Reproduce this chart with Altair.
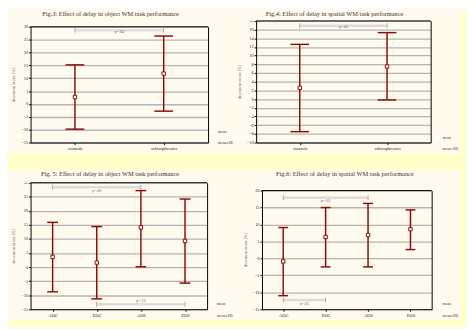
import altair as alt
import pandas as pd

# ---------------- data ----------------
YTITLE = "decrement in rate [%]"

P1_TITLE = "Fig.3: Effect of delay in object WM task performance"
P1_CATS = ["controls", "schizophrenics"]
P1_MEAN = [2.7, 11.8]
P1_LOW = [-9.8, -2.8]
P1_HIGH = [15.2, 26.4]
P1_YTICKS = [-15, -10, -5, 0, 5, 10, 15, 20, 25, 30]
P1_BR_FROM = ["controls"]
P1_BR_TO = ["schizophrenics"]
P1_BR_AT = [28.6]
P1_BR_TEXT = ["p=.04"]
P1_LEGEND = ["mean", "mean±SE"]

P2_TITLE = "Fig.4: Effect of delay in spatial WM task performance"
P2_CATS = ["controls", "schizophrenics"]
P2_MEAN = [2.6, 7.5]
P2_LOW = [-7.5, -0.2]
P2_HIGH = [12.6, 15.3]
P2_YTICKS = [-10, -8, -6, -4, -2, 0, 2, 4, 6, 8, 10, 12, 14, 16, 18]
P2_BR_FROM = ["controls"]
P2_BR_TO = ["schizophrenics"]
P2_BR_AT = [16.9]
P2_BR_TEXT = ["p=.45"]
P2_LEGEND = ["mean", "mean±SD"]

P3_TITLE = "Fig. 5: Effect of delay in object WM task performance"
P3_CATS = ["AOC", "EOC", "AOS", "EOS"]
P3_MEAN = [3.6, 1.6, 14.1, 9.3]
P3_LOW = [-8.8, -11.3, 0.1, -5.7]
P3_HIGH = [15.9, 14.4, 27.2, 24.2]
P3_YTICKS = [-15, -10, -5, 0, 5, 10, 15, 20, 25, 30]
P3_BR_FROM = ["AOC", "EOC"]
P3_BR_TO = ["AOS", "EOS"]
P3_BR_AT = [28.4, -13.2]
P3_BR_TEXT = ["p=.08", "p=.13"]
P3_LEGEND = ["mean", "mean±SD"]

P4_TITLE = "Fig.6: Effect of delay in spatial WM task performance"
P4_CATS = ["AOC", "EOC", "AOS", "EOS"]
P4_MEAN = [-0.9, 6.3, 6.9, 8.6]
P4_LOW = [-11.0, -2.5, -2.5, 2.6]
P4_HIGH = [9.1, 15.0, 16.2, 14.3]
P4_YTICKS = [-15, -10, -5, 0, 5, 10, 15, 20]
P4_BR_FROM = ["AOC", "AOC"]
P4_BR_TO = ["AOS", "EOC"]
P4_BR_AT = [17.9, -12.3]
P4_BR_TEXT = ["p=.03", "p=.05"]
P4_LEGEND = ["mean", "mean±SD"]

# ---------------- styling / layout ----------------
BG = "#ffffc8"
CREAM = "#fffaee"
RED = "#8b0c0c"
GRID = "#b4b4b4"
FONT = "Liberation Serif"
IBEAM = "M-1.3,-1.7L1.3,-1.7M0,-1.7L0,1.7M-1.3,1.7L1.3,1.7"

# w/h: view size; top: where the y range starts inside the view
# cl/cr/ct/cb: the cream panel around the view; gap: yellow strip below; rgap: strip right
L1 = dict(w=181, h=124, top=6, cl=-23, cr=208, ct=-9, cb=135, gap=17, rgap=0,
          toff=-6, tdx=-9, cap=19, lx=183, ly=110, dy=[2])
L2 = dict(w=178, h=124, top=0, cl=-22, cr=208, ct=-9, cb=135, gap=17, rgap=6,
          toff=-6, tdx=-9, cap=19, lx=182, ly=116, dy=[1])
L3 = dict(w=180, h=129, top=0, cl=-23, cr=208, ct=-13, cb=140, gap=7, rgap=0,
          toff=-8, tdx=-9, cap=11, lx=182, ly=121, dy=[4, -3])
L4 = dict(w=173, h=129, top=8, cl=-28, cr=202, ct=-13, cb=140, gap=7, rgap=6,
          toff=-8, tdx=-2, cap=10, lx=176, ly=121, dy=[3, 4])


def axis(**kw):
    base = dict(domainColor="black", domainWidth=1, tickColor="black",
                tickSize=2, grid=False, labelFont=FONT, labelFontSize=4.5,
                labelColor="#222", title=None)
    base.update(kw)
    return alt.Axis(**base)


def box(color, x1, x2, y1, y2):
    return alt.Chart(pd.DataFrame({"k": [0]})).mark_rect(fill=color, opacity=1).encode(
        x=alt.value(x1), x2=alt.value(x2), y=alt.value(y1), y2=alt.value(y2))


def panel(title, cats, mean, low, high, yticks, br_from, br_to, br_at, br_text, legend, L):
    n = len(cats)
    idx = list(range(n))
    bars = pd.DataFrame({"cat": cats, "i": idx, "mean": mean, "low": low,
                         "high": high, "stat": legend[0]})
    caps = pd.concat([pd.DataFrame({"i": idx, "v": low}),
                      pd.DataFrame({"i": idx, "v": high})])
    top = pd.DataFrame({"v": [yticks[-1]]})
    br = pd.DataFrame({"a": [cats.index(c) for c in br_from],
                       "b": [cats.index(c) for c in br_to],
                       "at": br_at, "text": br_text})
    br["mid"] = (br["a"] + br["b"]) / 2
    ends = pd.concat([pd.DataFrame({"i": br["a"], "at": br["at"]}),
                      pd.DataFrame({"i": br["b"], "at": br["at"]})])

    xs = alt.Scale(domain=[-0.5, n - 0.5], nice=False, zero=False)
    ys = alt.Scale(domain=[yticks[0], yticks[-1]], range=[L["h"], L["top"]],
                   nice=False, zero=False)
    labexpr = "[" + ",".join("'%s'" % c for c in cats) + "][datum.value]"

    layers = [
        box(CREAM, L["cl"], L["cr"], L["ct"], 0),
        box(BG, L["cl"], L["cr"] + L["rgap"], L["cb"], L["cb"] + L["gap"]),
    ]
    if L["rgap"]:
        layers.append(box(BG, L["cr"], L["cr"] + L["rgap"], L["ct"], L["cb"]))

    frame = alt.Chart(top).mark_rule(color="black", strokeWidth=1).encode(
        y=alt.Y("v:Q", scale=ys,
                axis=axis(orient="right", values=yticks, labels=False, ticks=False)))

    rules = alt.Chart(bars).mark_rule(color=RED, strokeWidth=1.5).encode(
        x=alt.X("i:Q", scale=xs,
                axis=axis(orient="bottom", values=idx, labelExpr=labexpr, labelPadding=1)),
        y=alt.Y("low:Q", scale=ys,
                axis=axis(orient="left", values=yticks, labelPadding=1,
                          grid=True, gridColor=GRID, gridWidth=1.3,
                          title=YTITLE, titleFont=FONT, titleFontSize=4,
                          titleColor="#555", titleFontWeight="normal", titlePadding=5)),
        y2="high:Q")

    capsl = alt.Chart(caps).mark_tick(orient="horizontal", color=RED, size=L["cap"],
                                      thickness=1.5, opacity=1).encode(
        x=alt.X("i:Q", scale=xs, axis=None),
        y=alt.Y("v:Q", scale=ys, axis=None))

    brl = alt.Chart(br).mark_rule(color="#dcdcdc", strokeWidth=2.5).encode(
        x=alt.X("a:Q", scale=xs, axis=None), x2="b:Q",
        y=alt.Y("at:Q", scale=ys, axis=None))

    bre = alt.Chart(ends).mark_tick(orient="vertical", color="#999999", size=5,
                                    thickness=0.8, opacity=1).encode(
        x=alt.X("i:Q", scale=xs, axis=None),
        y=alt.Y("at:Q", scale=ys, axis=None))

    texts = []
    for k in range(len(br)):
        texts.append(
            alt.Chart(br.iloc[[k]]).mark_text(font=FONT, fontSize=4, color="#666",
                                              dy=L["dy"][k], baseline="middle").encode(
                x=alt.X("mid:Q", scale=xs, axis=None),
                y=alt.Y("at:Q", scale=ys, axis=None),
                text="text:N"))

    means = alt.Chart(bars).mark_point(filled=False, color=RED, fill="white",
                                       fillOpacity=1, strokeWidth=1, size=12,
                                       opacity=1).encode(
        x=alt.X("i:Q", scale=xs, axis=None),
        y=alt.Y("mean:Q", scale=ys, axis=None),
        shape=alt.Shape("stat:N",
                        scale=alt.Scale(domain=legend, range=["square", IBEAM]),
                        legend=alt.Legend(title=None, orient="none",
                                          legendX=L["lx"], legendY=L["ly"],
                                          labelFont=FONT, labelFontSize=4,
                                          labelColor="#333", symbolSize=16,
                                          symbolStrokeColor=RED,
                                          symbolFillColor="white",
                                          symbolOpacity=1,
                                          symbolStrokeWidth=1.2, rowPadding=1,
                                          padding=0, labelOffset=2)))

    layers += [frame, rules, capsl, brl, bre] + texts + [means]
    return alt.layer(*layers).resolve_axis(
        x="independent", y="independent").properties(
        width=L["w"], height=L["h"],
        title=alt.TitleParams(text=title, font=FONT, fontSize=6.5, fontWeight="normal",
                              color="#333", offset=L["toff"], dx=L["tdx"],
                              anchor="middle", frame="group"))


p1 = panel(P1_TITLE, P1_CATS, P1_MEAN, P1_LOW, P1_HIGH, P1_YTICKS,
           P1_BR_FROM, P1_BR_TO, P1_BR_AT, P1_BR_TEXT, P1_LEGEND, L1)
p2 = panel(P2_TITLE, P2_CATS, P2_MEAN, P2_LOW, P2_HIGH, P2_YTICKS,
           P2_BR_FROM, P2_BR_TO, P2_BR_AT, P2_BR_TEXT, P2_LEGEND, L2)
p3 = panel(P3_TITLE, P3_CATS, P3_MEAN, P3_LOW, P3_HIGH, P3_YTICKS,
           P3_BR_FROM, P3_BR_TO, P3_BR_AT, P3_BR_TEXT, P3_LEGEND, L3)
p4 = panel(P4_TITLE, P4_CATS, P4_MEAN, P4_LOW, P4_HIGH, P4_YTICKS,
           P4_BR_FROM, P4_BR_TO, P4_BR_AT, P4_BR_TEXT, P4_LEGEND, L4)

row1 = alt.hconcat(p1, p2, spacing=0).resolve_scale(shape="independent").resolve_legend(shape="independent")
row2 = alt.hconcat(p3, p4, spacing=0).resolve_scale(shape="independent").resolve_legend(shape="independent")

chart = alt.vconcat(row1, row2, spacing=0).resolve_scale(
    shape="independent").resolve_legend(shape="independent").properties(
    padding={"left": 0, "top": 0, "right": 0, "bottom": 0}
).configure(background=CREAM, font=FONT).configure_view(stroke=None)

chart.save("out.html", embed_options={"renderer": "svg", "actions": False})
